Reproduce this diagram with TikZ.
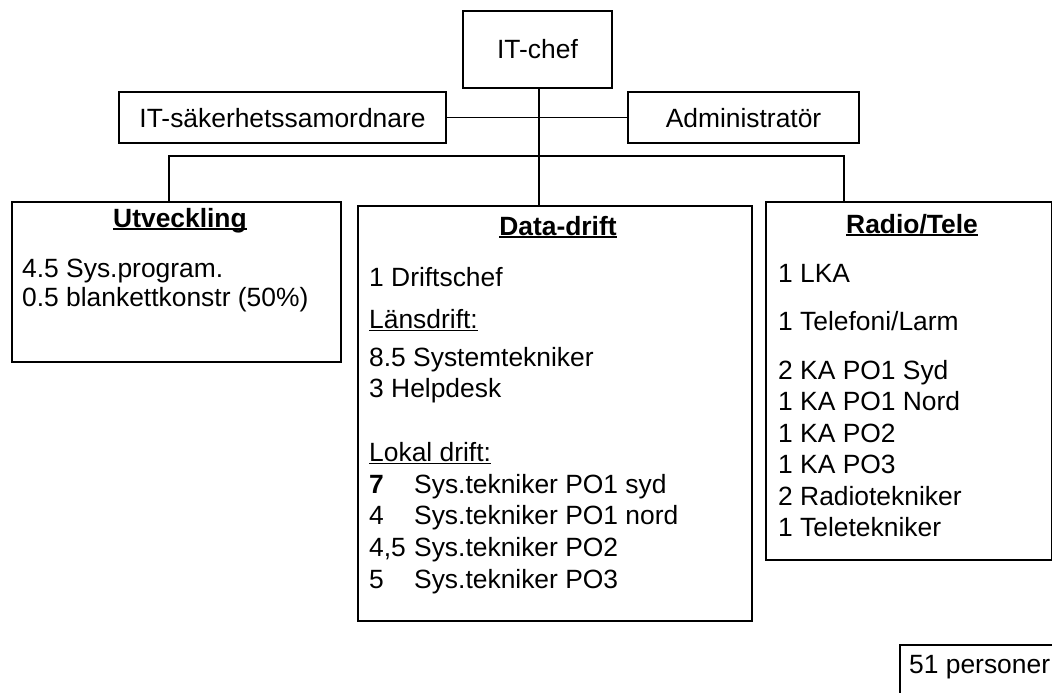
\documentclass[tikz,border=0pt]{standalone}
\usepackage{fontspec}
\setmainfont{Liberation Sans}
\newcommand\myul[2][1.5pt]{\setbox0\hbox{#2}\rlap{\rule[-3pt]{\wd0}{#1}}\box0}
\begin{document}
\begin{tikzpicture}[x=1pt,y=-1pt,
  box/.style={draw,line width=1.8pt,rectangle,inner sep=0pt},
  lbl/.style={anchor=base west,inner sep=0pt,font=\fontsize{26.4}{30}\selectfont},
  ttl/.style={anchor=base,inner sep=0pt,font=\fontsize{26.4}{30}\selectfont\bfseries},
  conn/.style={line width=1.6pt}]
\useasboundingbox (0,0) rectangle (1052,693);
% single-line boxes
\node[box,minimum width=149pt,minimum height=77pt,font=\fontsize{26.4}{30}\selectfont,text height=19pt,text depth=0pt] (chef) at (537.5,49.5) {IT-chef};
\node[box,minimum width=327pt,minimum height=51pt,font=\fontsize{26.4}{30}\selectfont,text height=19pt,text depth=0pt] (sak) at (282.5,117.5) {IT-säkerhetssamordnare};
\node[box,minimum width=231pt,minimum height=51pt,font=\fontsize{26.4}{30}\selectfont,text height=19pt,text depth=0pt] (adm) at (743.5,117.5) {Administratör};
% department boxes
\node[box,anchor=north west,minimum width=329pt,minimum height=160pt] (utv) at (11,201) {};
\node[box,anchor=north west,minimum width=394pt,minimum height=415pt] (ddrift) at (357,205) {};
\node[box,anchor=north west,minimum width=286pt,minimum height=358pt] (radio) at (765,201) {};
\node[box,anchor=north west,minimum width=170pt,minimum height=70pt] (pers) at (899,644) {};
% helper coordinates
\coordinate (xc) at (539,0);
\coordinate (bl) at (169,156);
\coordinate (br) at (844,156);
% connectors
\draw[conn] (chef.south -| xc) -- (ddrift.north -| xc);
\draw[conn] (sak.east) -- (adm.west);
\draw[conn] (utv.north -| bl) -- (bl) -- (br) -- (radio.north -| br);
% Utveckling
\node[ttl] (tutv) at (180,227) {\myul[2.2pt]{Utveckling}};
\node[lbl] (u1) at (22,277) {4.5 Sys.program.};
\node[lbl] (u2) at (22,306) {0.5 blankettkonstr (50\%)};
% Data-drift
\node[ttl] (tdd) at (558,235) {\myul[2.2pt]{Data-drift}};
\node[lbl] (d1) at (369,286) {1 Driftschef};
\node[lbl] (d2) at (369,328) {\myul{Länsdrift:}};
\node[lbl] (d3) at (369,366) {8.5 Systemtekniker};
\node[lbl] (d4) at (369,397) {3 Helpdesk};
\node[lbl] (d5) at (369,461) {\myul{Lokal drift:}};
\node[lbl] (d6) at (369,493) {\makebox[45pt][l]{\bfseries 7}Sys.tekniker PO1 syd};
\node[lbl] (d7) at (369,524) {\makebox[45pt][l]{4}Sys.tekniker PO1 nord};
\node[lbl] (d8) at (369,556) {\makebox[45pt][l]{4,5}Sys.tekniker PO2};
\node[lbl] (d9) at (369,588) {\makebox[45pt][l]{5}Sys.tekniker PO3};
% Radio/Tele
\node[ttl] (trt) at (912,233) {\myul[2.2pt]{Radio/Tele}};
\node[lbl] (r1) at (778,282) {1 LKA};
\node[lbl] (r2) at (778,330) {1 Telefoni/Larm};
\node[lbl] (r3) at (778,379) {2 KA PO1 Syd};
\node[lbl] (r4) at (778,410) {1 KA PO1 Nord};
\node[lbl] (r5) at (778,442) {1 KA PO2};
\node[lbl] (r6) at (778,473) {1 KA PO3};
\node[lbl] (r7) at (778,505) {2 Radiotekniker};
\node[lbl] (r8) at (778,536) {1 Teletekniker};
% total
\node[lbl] (tot) at (909,673) {51 personer};
\end{tikzpicture}
\end{document}
